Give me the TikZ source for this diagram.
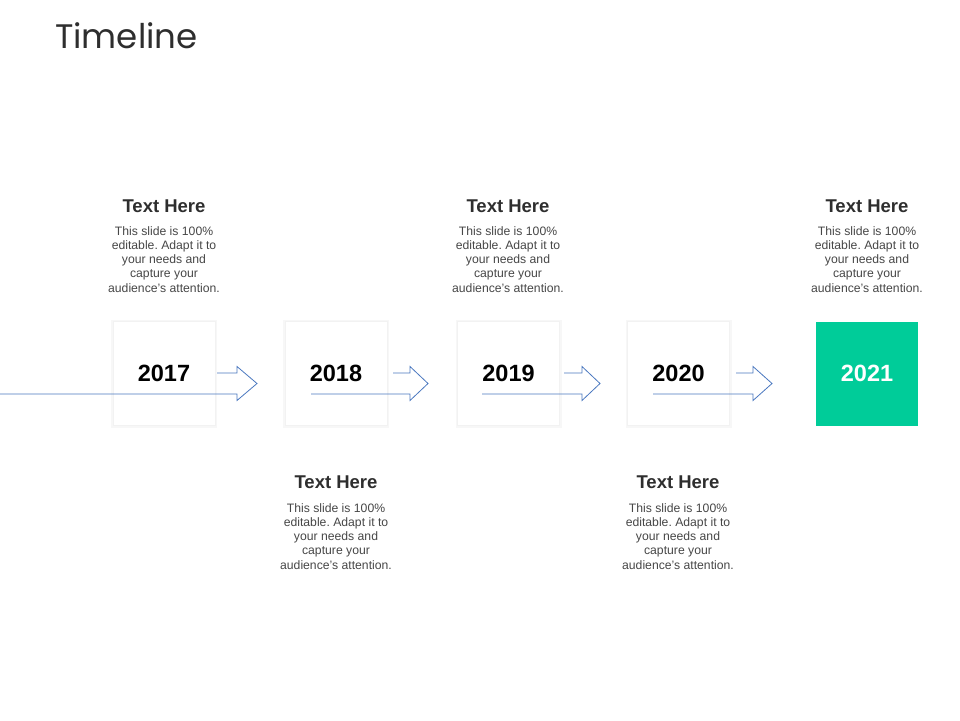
\documentclass[tikz,border=0pt]{standalone}
\usepackage{fontspec}
\setmainfont{Liberation Sans}
\newfontfamily\titlefont{Poppins}
\definecolor{tlgreen}{HTML}{00CC99}
\definecolor{tlblue}{HTML}{4A78C0}
\definecolor{tlhead}{HTML}{2E2E2E}
\definecolor{tlbody}{HTML}{474747}
\frenchspacing
\begin{document}
\begin{tikzpicture}[x=1pt,y=-1pt,
  yearbox/.style={minimum width=102pt, minimum height=104pt, fill=white, draw=black!5, line width=1pt, font=\bfseries\fontsize{23.5}{23.5}\selectfont, text=black, inner sep=0pt, double=none},
  greenbox/.style={minimum width=102pt, minimum height=104pt, fill=tlgreen, font=\bfseries\fontsize{23.5}{23.5}\selectfont, text=white, inner sep=0pt},
  headtxt/.style={font=\bfseries\fontsize{18.5}{20}\selectfont, text=tlhead, anchor=base, inner sep=0pt},
  bodytxt/.style={font=\fontsize{12.2}{14.3}\selectfont, text=tlbody, align=center, anchor=north, inner sep=0pt},
  arr/.style={draw=tlblue, line width=0.8pt, line join=miter}]
\useasboundingbox[fill=white] (0,0) rectangle (960,720);
% title
\node[anchor=base west, inner sep=0pt, font=\titlefont\fontsize{34}{34}\selectfont, text=tlhead] (title) at (55,48) {Timeline};
% year boxes (soft halo first)
\foreach \cx/\nm in {164/s17,336/s18,508.5/s19,678.5/s20}{
  \node[minimum width=104pt, minimum height=106pt, draw=black!3, line width=2pt, inner sep=0pt] (\nm) at (\cx,373.5) {};
}
\node[yearbox] (b17) at (164,373) {2017};
\node[yearbox] (b18) at (336,373) {2018};
\node[yearbox] (b19) at (508.5,373) {2019};
\node[yearbox] (b20) at (678.5,373) {2020};
\node[greenbox] (b21) at (867,373.5) {2021};
% block arrows
\newcommand\tlarrow[4]{%
  \draw[arr] (#1,394) -- (#3,394) -- (#3,400.5) -- (#4,383.5) -- (#3,366.5) -- (#3,373) -- (#2,373);}
\tlarrow{0}{217}{237}{257}
\tlarrow{311}{393}{410}{428}
\tlarrow{482}{564}{582}{600}
\tlarrow{653}{736}{753}{772}
% texts above
\node[headtxt] (h17) at (164,212) {Text Here};
\node[bodytxt] (t17) at (164,226) {This slide is 100\%\\editable. Adapt it to\\your needs and\\capture your\\audience's attention.};
\node[headtxt] (h19) at (508,212) {Text Here};
\node[bodytxt] (t19) at (508,226) {This slide is 100\%\\editable. Adapt it to\\your needs and\\capture your\\audience's attention.};
\node[headtxt] (h21) at (867,212) {Text Here};
\node[bodytxt] (t21) at (867,226) {This slide is 100\%\\editable. Adapt it to\\your needs and\\capture your\\audience's attention.};
% texts below
\node[headtxt] (h18) at (336,488) {Text Here};
\node[bodytxt] (t18) at (336,503) {This slide is 100\%\\editable. Adapt it to\\your needs and\\capture your\\audience's attention.};
\node[headtxt] (h20) at (678,488) {Text Here};
\node[bodytxt] (t20) at (678,503) {This slide is 100\%\\editable. Adapt it to\\your needs and\\capture your\\audience's attention.};
\end{tikzpicture}
\end{document}
